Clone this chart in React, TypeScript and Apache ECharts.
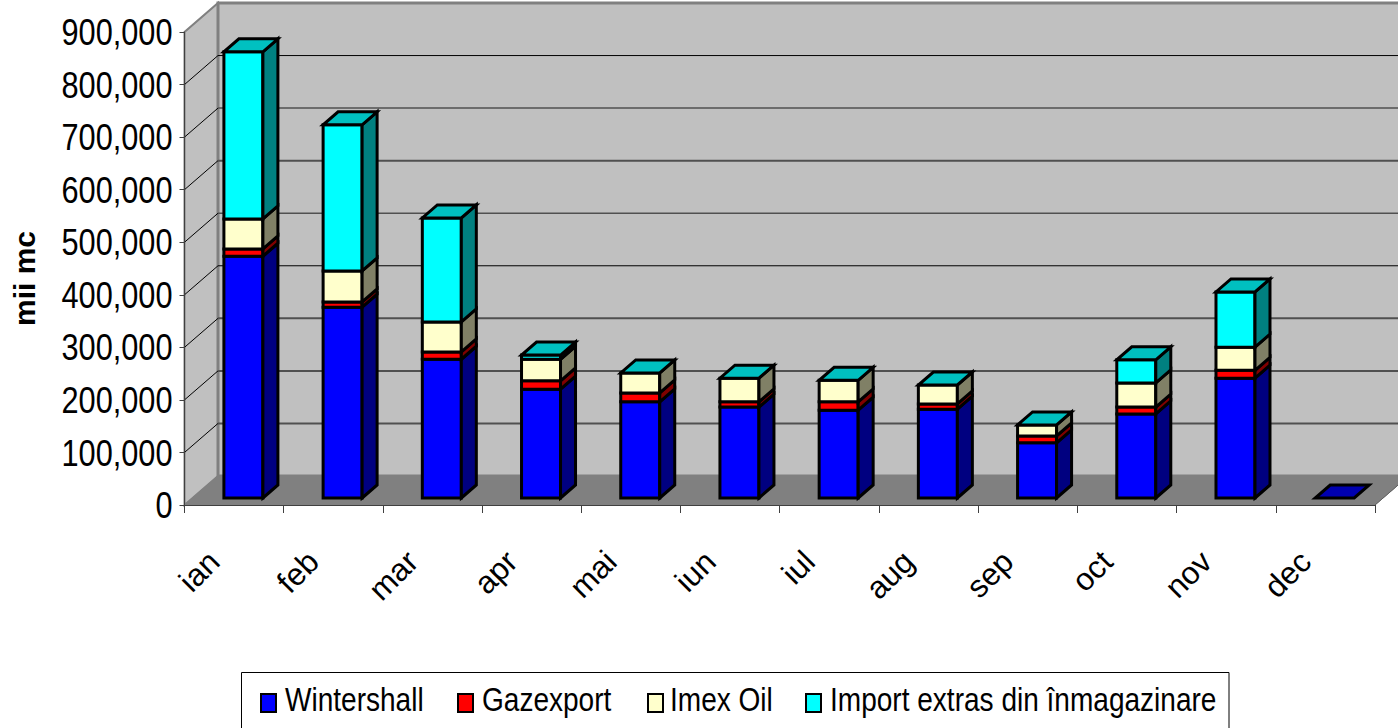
import React, { useEffect, useRef } from "react";
import * as echarts from "echarts";

const months = ["ian", "feb", "mar", "apr", "mai", "iun", "iul", "aug", "sep", "oct", "nov", "dec"];
const wintershall = [460, 363, 264, 207, 183, 173, 167, 169, 105, 160, 228, 0].map((v) => v * 1000);
const gazexport = [14, 10, 14, 16, 17, 10, 16, 10, 13, 13, 15, 0].map((v) => v * 1000);
const imexOil = [57, 59, 57, 41, 38, 45, 41, 36, 21, 46, 44, 0].map((v) => v * 1000);
const importExtras = [318, 278, 198, 8, 0, 0, 0, 0, 0, 44, 105, 0].map((v) => v * 1000);
const seriesNames = ["Wintershall", "Gazexport", "Imex Oil", "Import extras din înmagazinare"];
const yTicks = [100000, 200000, 300000, 400000, 500000, 600000, 700000, 800000, 900000];
const yLabels = [0, ...yTicks];
const gridWidths = [2, 2, 2, 1, 1.5, 2, 1.5, 1, 0];

const FONT = "Liberation Sans";
const LABEL_FONT = `37px ${FONT}`;
const TEXT_SCALE_X = 0.83;
const WALL_DX = 33.5;
const WALL_DY = -29;
const BAR_W = 39;
const BAR_SHIFT_X = -10.2;
const BAR_SHIFT_Y = -7;
const BAR_DX = 15;
const BAR_DY = -13;

const front = ["#0000ff", "#ff0000", "#ffffcc", "#00ffff"];
const side = ["#000080", "#800000", "#808066", "#008080"];
const topColor = "#00c0c0";
const emptyTopColor = "#0000b0";

const legendIconX = [261, 458, 648, 806];
const legendTextX = [285, 482, 670, 830];

function wallsRender(params: any, api: any) {
  const cs = params.coordSys;
  const x0 = cs.x;
  const x1 = cs.x + cs.width;
  const yB = cs.y + cs.height;
  const yT = cs.y;
  const children: any[] = [
    { type: "polygon", shape: { points: [[x0, yB], [x0, yT], [x0 + WALL_DX, yT + WALL_DY], [x0 + WALL_DX, yB + WALL_DY]] }, style: { fill: "#c0c0c0", stroke: "#808080", lineWidth: 2 } },
    { type: "polygon", shape: { points: [[x0 + WALL_DX, yT + WALL_DY], [x1 + WALL_DX + 2, yT + WALL_DY], [x1 + WALL_DX + 2, yB + WALL_DY], [x0 + WALL_DX, yB + WALL_DY]] }, style: { fill: "#c0c0c0", stroke: "#808080", lineWidth: 3 } },
    { type: "polygon", shape: { points: [[x0, yB], [x1, yB], [x1 + WALL_DX, yB + WALL_DY], [x0 + WALL_DX, yB + WALL_DY]] }, style: { fill: "#808080", stroke: "#808080", lineWidth: 1 } },
    { type: "polygon", shape: { points: [[x1, yB + 1], [x1 + WALL_DX + 2, yB + 1], [x1 + WALL_DX + 2, yB + WALL_DY]] }, style: { fill: "#ffffff" } },
    { type: "line", shape: { x1: x1, y1: yB, x2: x1 + WALL_DX, y2: yB + WALL_DY }, style: { stroke: "#606060", lineWidth: 1 } },
  ];
  yTicks.forEach((t, i) => {
    const y = api.coord([0, t])[1];
    if (gridWidths[i] > 0) {
      children.push({ type: "line", shape: { x1: x0 + WALL_DX, y1: y + WALL_DY, x2: x1 + WALL_DX + 2, y2: y + WALL_DY }, style: { stroke: gridWidths[i] > 1 ? "#505050" : "#000000", lineWidth: gridWidths[i] } });
      children.push({ type: "line", shape: { x1: x0, y1: y, x2: x0 + WALL_DX, y2: y + WALL_DY }, style: { stroke: "#000000", lineWidth: 1 } });
    }
  });
  return { type: "group", children };
}

function labelsRender(params: any, api: any) {
  const children: any[] = yLabels.map((t) => ({
    type: "text",
    x: params.coordSys.x - 12,
    y: api.coord([0, t])[1],
    scaleX: TEXT_SCALE_X,
    style: { text: t.toLocaleString("en-US"), font: LABEL_FONT, fill: "#000000", align: "right", verticalAlign: "middle" },
  }));
  return { type: "group", children };
}

function barRender(idx: number) {
  return (params: any, api: any) => {
    const c = api.coord([api.value(0), api.value(1)]);
    const t = api.coord([api.value(0), api.value(2)]);
    const x = c[0] + BAR_SHIFT_X;
    const yb = c[1] + BAR_SHIFT_Y;
    const yt = t[1] + BAR_SHIFT_Y;
    const s = { stroke: "#000000", lineWidth: 3, lineJoin: "miter" };
    const children: any[] = [];
    if (yb - yt > 0.01) {
      children.push({ type: "polygon", shape: { points: [[x, yb], [x + BAR_W, yb], [x + BAR_W, yt], [x, yt]] }, style: { fill: front[idx], ...s } });
      children.push({ type: "polygon", shape: { points: [[x + BAR_W, yb], [x + BAR_W + BAR_DX, yb + BAR_DY], [x + BAR_W + BAR_DX, yt + BAR_DY], [x + BAR_W, yt]] }, style: { fill: side[idx], ...s } });
    }
    if (idx === 3) {
      const empty = api.value(2) === 0;
      children.push({ type: "polygon", shape: { points: [[x, yt], [x + BAR_W, yt], [x + BAR_W + BAR_DX, yt + BAR_DY], [x + BAR_DX, yt + BAR_DY]] }, style: { fill: empty ? emptyTopColor : topColor, ...s } });
    }
    return { type: "group", children };
  };
}

export default function App() {
  const ref = useRef<HTMLDivElement>(null);
  useEffect(() => {
    document.body.style.margin = "0";
    document.body.style.background = "#ffffff";
    const chart = echarts.init(ref.current!, undefined, { renderer: "svg" });
    const stacks = [wintershall, gazexport, imexOil, importExtras];
    const running = months.map(() => 0);
    const barSeries = stacks.map((vals, idx) => {
      const data = vals.map((v, i) => {
        const b = running[i];
        running[i] += v;
        return [i, b, running[i]];
      });
      return {
        type: "custom",
        name: seriesNames[idx],
        renderItem: barRender(idx),
        data,
        encode: { x: 0, y: [1, 2] },
        itemStyle: { color: front[idx] },
        z: 5 + idx,
      };
    });
    const legendGraphics: any[] = [
      { type: "rect", shape: { x: 241.5, y: 672.5, width: 987.5, height: 70 }, style: { fill: "#ffffff", stroke: "#000000", lineWidth: 1 } },
    ];
    seriesNames.forEach((name, i) => {
      legendGraphics.push({ type: "rect", shape: { x: legendIconX[i], y: 694, width: 15, height: 18 }, style: { fill: front[i], stroke: "#000000", lineWidth: 2 } });
      legendGraphics.push({ type: "text", x: legendTextX[i], y: 699, scaleX: 0.85, style: { text: name, font: `33px ${FONT}`, fill: "#000000", align: "left", verticalAlign: "middle" } });
    });
    chart.setOption({
      animation: false,
      backgroundColor: "#ffffff",
      grid: { left: 184.5, top: 32, width: 1190.5, height: 473, containLabel: false },
      xAxis: {
        type: "category",
        data: months,
        z: 10,
        axisLine: { show: true, lineStyle: { color: "#404040", width: 1 } },
        axisTick: { show: true, alignWithLabel: false, length: 8, lineStyle: { color: "#404040", width: 1 } },
        axisLabel: { rotate: 45, interval: 0, margin: 31, color: "#000", fontFamily: FONT, fontSize: 31.5, padding: [0, 28.5, 0, 0] },
      },
      yAxis: {
        type: "value",
        min: 0,
        max: 900000,
        interval: 100000,
        z: 10,
        splitLine: { show: false },
        axisLine: { show: true, lineStyle: { color: "#404040", width: 1 } },
        axisTick: { show: true, length: 5, lineStyle: { color: "#404040", width: 1 } },
        axisLabel: { show: false },
      },
      graphic: [
        { type: "text", rotation: Math.PI / 2, x: 9, y: 326, style: { text: "mii mc", fill: "#000", font: `bold 30px ${FONT}` } },
        ...legendGraphics,
      ],
      series: [
        { type: "custom", silent: true, renderItem: wallsRender, data: [[0, 0]], z: 1 },
        { type: "custom", silent: true, renderItem: labelsRender, data: [[0, 0]], z: 11 },
        ...barSeries,
      ],
    });
    return () => chart.dispose();
  }, []);
  return <div ref={ref} style={{ position: "absolute", left: 0, top: 0, width: 1398, height: 728 }} />;
}
